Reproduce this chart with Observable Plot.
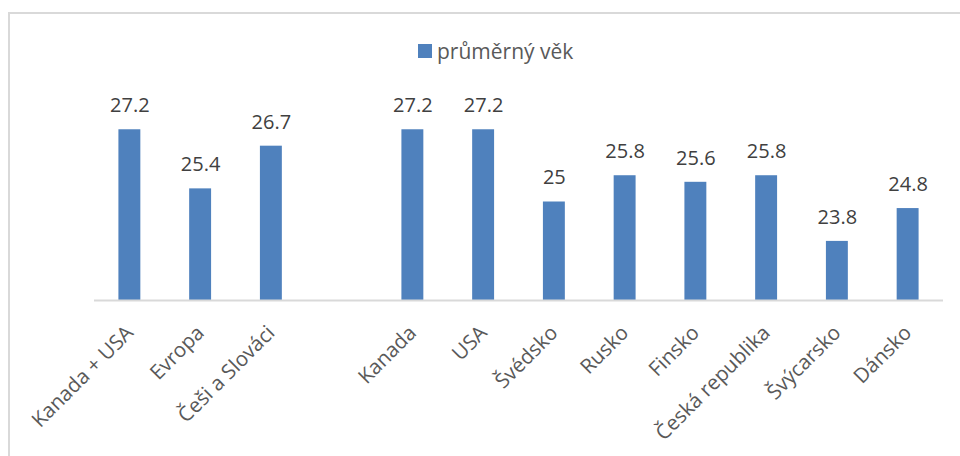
<!DOCTYPE html>
<html>
<head>
<meta charset="utf-8">
<script src="https://cdn.jsdelivr.net/npm/d3@7"></script>
<script src="https://cdn.jsdelivr.net/npm/@observablehq/plot@0.6"></script>
<style>
  html, body { margin: 0; padding: 0; background: #fff; }
  #wrap { position: relative; width: 960px; height: 456px; overflow: hidden; font-family: "Open Sans", sans-serif; }
  #border { position: absolute; left: 8px; top: 12px; right: -10px; bottom: -10px; border-left: 2px solid #d9d9d9; border-top: 2px solid #d9d9d9; }
  #legend { position: absolute; left: 418px; top: 37px; display: flex; align-items: center; font-size: 21px; color: #595959; }
  #legend .sw { width: 14px; height: 14px; background: #4f81bd; margin-right: 5px; }
  #chart { position: absolute; left: 0; top: 0; }
</style>
</head>
<body>
<div id="wrap">
  <div id="border"></div>
  <div id="chart"></div>
  <div id="legend"><span class="sw"></span><span id="legtext"></span></div>
</div>
<script>
const seriesName = "průměrný věk";
const categories = ["Kanada + USA", "Evropa", "Češi a Slováci", "", "Kanada", "USA", "Švédsko", "Rusko", "Finsko", "Česká republika", "Švýcarsko", "Dánsko"];
const labels = ["Kanada + USA", "Evropa", "Češi a Slováci", "Kanada", "USA", "Švédsko", "Rusko", "Finsko", "Česká republika", "Švýcarsko", "Dánsko"];
const values = [27.2, 25.4, 26.7, 27.2, 27.2, 25, 25.8, 25.6, 25.8, 23.8, 24.8];
const yMin = 22, yMax = 28;

document.getElementById("legtext").textContent = seriesName;
const data = labels.map((k, i) => ({k, v: values[i]}));

const chart = Plot.plot({
  width: 960,
  height: 456,
  marginLeft: 94,
  marginRight: 17,
  marginTop: 103,
  marginBottom: 156,
  style: {fontFamily: "Open Sans, sans-serif", background: "transparent"},
  x: {domain: categories, paddingInner: 0.69, paddingOuter: 0.345, round: false, label: null},
  y: {domain: [yMin, yMax], axis: null},
  marks: [
    Plot.barY(data, {x: "k", y1: yMin, y2: "v", fill: "#4f81bd"}),
    Plot.ruleY([yMin], {stroke: "#d9d9d9", strokeWidth: 2}),
    Plot.text(data, {x: "k", y: "v", text: d => String(d.v), dy: -24, fontSize: 20, fill: "#404040"}),
    Plot.axisX({tickSize: 0, tickPadding: 29, dx: 0, tickRotate: -45, fontSize: 20.5, fill: "#595959", label: null})
  ]
});
document.getElementById("chart").appendChild(chart);
</script>
</body>
</html>
